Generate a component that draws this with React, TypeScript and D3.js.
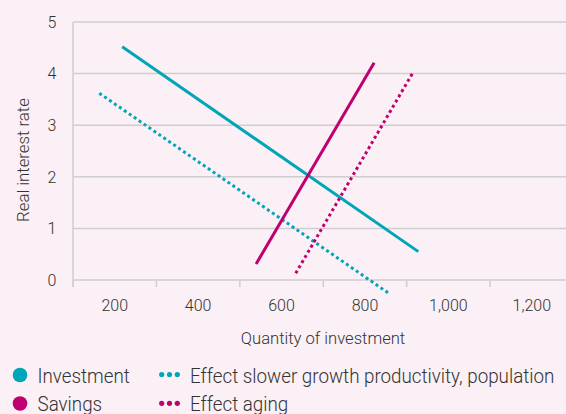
import React from "react";
import * as d3 from "d3";

const W = 566;
const H = 414;

const yTicks = [0, 1, 2, 3, 4, 5];
const xLabels = [200, 400, 600, 800, 1000, 1200];
const xBoundaries = [100, 300, 500, 700, 900, 1100, 1300];

const investment = [
  { x: 218, y: 4.52 },
  { x: 928, y: 0.55 },
];
const investmentShift = [
  { x: 163, y: 3.62 },
  { x: 861, y: -0.28 },
];
const savings = [
  { x: 539, y: 0.31 },
  { x: 822, y: 4.21 },
];
const savingsShift = [
  { x: 634, y: 0.13 },
  { x: 915, y: 4.02 },
];

const TEAL = "#00a5b7";
const MAGENTA = "#bf0070";
const GRID = "#d0cdd0";
const TEXT = "#333333";
const FONT = "Roboto, 'Noto Sans', sans-serif";

function LegendText({ x, y, children }: { x: number; y: number; children: React.ReactNode }) {
  return (
    <text
      transform={`translate(${x},${y}) scale(0.94,1)`}
      fontSize={20}
      fontWeight={300}
      fill={TEXT}
    >
      {children}
    </text>
  );
}

export default function App() {
  const x = d3.scaleLinear().domain([100, 1300]).range([73, 573.5]);
  const y = d3.scaleLinear().domain([0, 5]).range([280, 22]);
  const line = d3
    .line<{ x: number; y: number }>()
    .x((d) => x(d.x))
    .y((d) => y(d.y));
  const fmt = d3.format(",");

  const series = [
    { data: investment, color: TEAL, dotted: false },
    { data: investmentShift, color: TEAL, dotted: true },
    { data: savings, color: MAGENTA, dotted: false },
    { data: savingsShift, color: MAGENTA, dotted: true },
  ];

  return (
    <svg
      width={W}
      height={H}
      style={{ position: "absolute", left: 0, top: 0, background: "#fbf0f5" }}
      fontFamily={FONT}
    >
      <rect x={0} y={0} width={W} height={H} fill="#fbf0f5" />
      {yTicks.map((t) => (
        <line
          key={"g" + t}
          x1={x(100)}
          x2={W}
          y1={y(t)}
          y2={y(t)}
          stroke={GRID}
          strokeWidth={1.5}
        />
      ))}
      <line x1={x(100)} x2={x(100)} y1={y(5)} y2={y(0) + 7} stroke={GRID} strokeWidth={1.5} />
      {xBoundaries.map((b) => (
        <line
          key={"t" + b}
          x1={x(b)}
          x2={x(b)}
          y1={y(0)}
          y2={y(0) + 7}
          stroke={GRID}
          strokeWidth={1.5}
        />
      ))}
      {yTicks.map((t) => (
        <text
          key={"yl" + t}
          x={52}
          y={y(t)}
          dy="0.36em"
          textAnchor="middle"
          fontSize={16}
          fontWeight={300}
          fill={TEXT}
        >
          {t}
        </text>
      ))}
      {xLabels.map((t) => (
        <text
          key={"xl" + t}
          x={x(t)}
          y={311}
          textAnchor="middle"
          fontSize={16}
          fontWeight={300}
          fill={TEXT}
        >
          {fmt(t)}
        </text>
      ))}
      <text
        x={323}
        y={344}
        textAnchor="middle"
        fontSize={16.6}
        fontWeight={300}
        fill={TEXT}
      >
        Quantity of investment
      </text>
      <text
        transform={`translate(28.5,160) rotate(-90)`}
        textAnchor="middle"
        fontSize={16.8}
        fontWeight={300}
        fill={TEXT}
      >
        Real interest rate
      </text>
      {series.map((s, i) => (
        <path
          key={"s" + i}
          d={line(s.data) || ""}
          fill="none"
          stroke={s.color}
          strokeWidth={3}
          strokeDasharray={s.dotted ? "3 3" : undefined}
        />
      ))}
      <circle cx={20} cy={375} r={7.3} fill={TEAL} />
      <LegendText x={37.5} y={382.5}>Investment</LegendText>
      <circle cx={20} cy={403.5} r={7.3} fill={MAGENTA} />
      <LegendText x={37.5} y={411}>Savings</LegendText>
      {[0, 1, 2].map((k) => (
        <circle key={"d1" + k} cx={161.7 + k * 7.8} cy={374.5} r={2.6} fill={TEAL} />
      ))}
      <LegendText x={190} y={382.5}>Effect slower growth productivity, population</LegendText>
      {[0, 1, 2].map((k) => (
        <circle key={"d2" + k} cx={161.7 + k * 7.8} cy={403.3} r={2.6} fill={MAGENTA} />
      ))}
      <LegendText x={190} y={411}>Effect aging</LegendText>
    </svg>
  );
}
